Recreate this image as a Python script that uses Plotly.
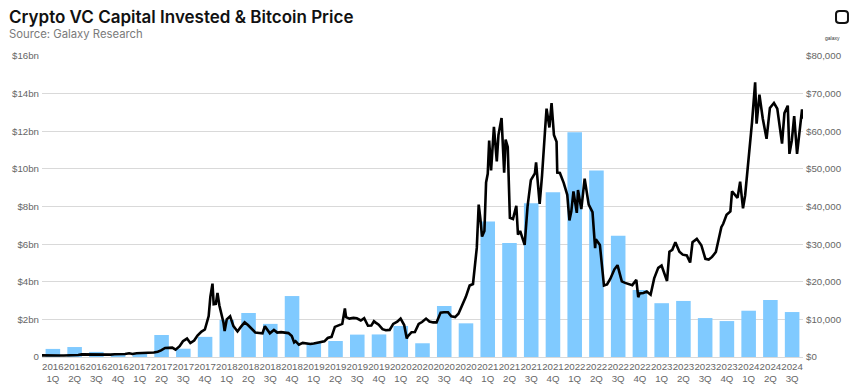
import plotly.graph_objects as go

quarters = [f"{y}<br>{q}Q" for y in range(2016, 2025) for q in range(1, 5)][:35]
vc_bn = [0.43, 0.53, 0.27, 0.12, 0.20, 1.17, 0.44, 1.07,
         1.97, 2.34, 1.76, 3.24,
         0.75, 0.85, 1.19, 1.20,
         1.65, 0.73, 2.71, 1.79,
         7.20, 6.06, 8.17, 8.76,
         11.95, 9.91, 6.45, 3.56,
         2.86, 2.98, 2.07, 1.91,
         2.46, 3.03, 2.39]

btc_dates = [
 "2016-01-01","2016-01-15","2016-02-01","2016-02-15","2016-03-01","2016-03-15","2016-04-01","2016-04-15",
 "2016-05-01","2016-05-15","2016-06-01","2016-06-15","2016-07-01","2016-07-15","2016-08-01","2016-08-15",
 "2016-09-01","2016-09-15","2016-10-01","2016-10-15","2016-11-01","2016-11-15","2016-12-01","2016-12-15",
 "2017-01-01","2017-01-15","2017-02-01","2017-02-15","2017-03-01","2017-03-15","2017-04-01","2017-04-15",
 "2017-05-01","2017-05-15","2017-06-01","2017-06-15","2017-07-01","2017-07-15","2017-08-01","2017-08-15",
 "2017-09-01","2017-09-15","2017-10-01","2017-10-15","2017-11-01","2017-11-15","2017-12-01","2017-12-08",
 "2017-12-17","2017-12-22","2017-12-31",
 "2018-01-07","2018-01-15","2018-02-01","2018-02-06","2018-02-15","2018-03-01","2018-03-15","2018-04-01",
 "2018-04-15","2018-05-01","2018-05-15","2018-06-01","2018-06-15","2018-07-01","2018-07-15","2018-07-25",
 "2018-08-01","2018-08-15","2018-09-01","2018-09-15","2018-10-01","2018-10-15","2018-11-01","2018-11-15",
 "2018-11-25","2018-12-01","2018-12-15","2018-12-31",
 "2019-01-15","2019-02-01","2019-02-15","2019-03-01","2019-03-15","2019-04-01","2019-04-15","2019-05-01",
 "2019-05-15","2019-06-01","2019-06-15","2019-06-26","2019-07-01","2019-07-15","2019-08-01","2019-08-15",
 "2019-09-01","2019-09-15","2019-10-01","2019-10-15","2019-10-26","2019-11-01","2019-11-15","2019-12-01",
 "2019-12-15","2019-12-31",
 "2020-01-15","2020-02-01","2020-02-15","2020-03-01","2020-03-12","2020-03-15","2020-04-01","2020-04-15",
 "2020-05-01","2020-05-15","2020-06-01","2020-06-15","2020-07-01","2020-07-15","2020-08-01","2020-08-15",
 "2020-09-01","2020-09-15","2020-10-01","2020-10-15","2020-11-01","2020-11-15","2020-12-01","2020-12-15",
 "2020-12-31",
 "2021-01-08","2021-01-15","2021-01-22","2021-02-01","2021-02-08","2021-02-15","2021-02-21","2021-03-01",
 "2021-03-13","2021-03-25","2021-04-01","2021-04-14","2021-04-25","2021-05-01","2021-05-10","2021-05-19",
 "2021-06-01","2021-06-15","2021-06-22","2021-07-01","2021-07-20","2021-08-01","2021-08-15","2021-09-01",
 "2021-09-06","2021-09-21","2021-10-01","2021-10-15","2021-10-20","2021-11-01","2021-11-10","2021-11-20",
 "2021-12-01","2021-12-04","2021-12-15","2021-12-31",
 "2022-01-15","2022-01-24","2022-02-01","2022-02-10","2022-02-24","2022-03-01","2022-03-15","2022-03-29",
 "2022-04-15","2022-05-01","2022-05-12","2022-05-15","2022-06-01","2022-06-18","2022-07-01","2022-07-15",
 "2022-08-01","2022-08-14","2022-09-01","2022-09-15","2022-10-01","2022-10-15","2022-11-01","2022-11-09",
 "2022-11-15","2022-12-01","2022-12-15","2022-12-31",
 "2023-01-15","2023-02-01","2023-02-15","2023-03-10","2023-03-20","2023-04-01","2023-04-14","2023-05-01",
 "2023-05-15","2023-06-01","2023-06-15","2023-06-25","2023-07-13","2023-08-01","2023-08-18","2023-09-01",
 "2023-09-15","2023-10-01","2023-10-24","2023-11-01","2023-11-15","2023-12-01","2023-12-08","2023-12-31",
 "2024-01-11","2024-01-23","2024-02-01","2024-02-15","2024-03-01","2024-03-14","2024-03-20","2024-04-01",
 "2024-04-15","2024-05-01","2024-05-15","2024-06-01","2024-06-15","2024-07-05","2024-07-15","2024-07-29",
 "2024-08-05","2024-08-15","2024-08-25","2024-09-06","2024-09-15","2024-09-27","2024-09-30",
]
btc_price = [
 430, 390, 375, 400, 430, 415, 417, 430,
 450, 455, 535, 690, 675, 665, 605, 570,
 575, 610, 615, 640, 730, 710, 755, 780,
 1000, 820, 990, 1010, 1220, 1250, 1080, 1180,
 1420, 1750, 2400, 2450, 2500, 1950, 2870, 4200,
 4900, 3700, 4400, 5700, 6750, 7300, 10900, 16000,
 19500, 14000, 14100,
 17000, 13700, 9200, 6900, 10000, 10800, 8200, 6800,
 8000, 9200, 8500, 7500, 6500, 6400, 6300, 8200,
 7600, 6300, 7200, 6500, 6600, 6450, 6350, 5600,
 3900, 4200, 3250, 3750,
 3600, 3450, 3600, 3800, 3950, 4150, 5050, 5350,
 8000, 8550, 8800, 12900, 10600, 10200, 10400, 10300,
 9700, 10300, 8300, 8350, 9500, 9200, 8600, 7400,
 7100, 7200,
 8800, 9400, 10200, 8500, 4900, 5400, 6600, 6650,
 8800, 9300, 10200, 9450, 9200, 9200, 11800, 11900,
 11900, 10800, 10600, 11500, 13800, 16000, 19000, 19400,
 29000,
 40500, 36800, 32000, 33500, 46400, 48700, 57500, 49600,
 61200, 52000, 59000, 63500, 49000, 57800, 55800, 37000,
 36700, 40200, 32500, 33500, 29800, 39900, 47000, 48800,
 51700, 40700, 48200, 61500, 66000, 61000, 67500, 59000,
 57200, 49000, 48900, 46300,
 43100, 36300, 38700, 44000, 38300, 44400, 39300, 47400,
 40500, 38500, 28900, 31300, 29800, 19000, 19300, 20800,
 23300, 24400, 20100, 19700, 19300, 19100, 20500, 15900,
 16900, 17000, 17400, 16550,
 20900, 23700, 24300, 20200, 28000, 28500, 30500, 28000,
 27200, 27000, 25100, 30500, 31400, 29700, 26100, 25900,
 26600, 27900, 34500, 35400, 37800, 38700, 44000, 42300,
 46600, 39500, 43000, 52000, 62400, 73000, 62000, 69700,
 63400, 58000, 66200, 67500, 66000, 56700, 64800, 66800,
 54000, 57500, 64000, 54000, 59000, 65800, 63300,
]

left_vals = [0, 2, 4, 6, 8, 10, 12, 14, 16]
left_text = ["0", "$2bn", "$4bn", "$6bn", "$8bn", "$10bn", "$12bn", "$14bn", "$16bn"]
right_vals = [0, 10000, 20000, 30000, 40000, 50000, 60000, 70000, 80000]
right_text = ["$0", "$10,000", "$20,000", "$30,000", "$40,000", "$50,000", "$60,000", "$70,000", "$80,000"]

font_fam = "Liberation Sans, Arial, sans-serif"
tick_col = "#666666"
tick_font = dict(family=font_fam, size=9.7, color=tick_col)

fig = go.Figure()
fig.add_trace(go.Bar(x=quarters, y=vc_bn, marker=dict(color="#80CAFF", line=dict(width=0)),
                     xaxis="x", yaxis="y", name="VC Capital Invested"))
fig.add_trace(go.Scatter(x=btc_dates, y=btc_price, mode="lines",
                         line=dict(color="#000000", width=2.6),
                         xaxis="x2", yaxis="y2", name="Bitcoin Price"))

# page has an 8px body offset, so the figure is 853x381 placed at (8, 8)
fig.update_layout(
    width=853, height=381,
    margin=dict(l=34, r=58, t=48, b=32, autoexpand=False),
    plot_bgcolor="white", paper_bgcolor="white",
    showlegend=False, bargap=0.33,
    font=dict(family=font_fam, size=10, color=tick_col),
    xaxis=dict(type="category", tickfont=tick_font, showgrid=False,
               tickangle=0, automargin=False,
               showline=True, linecolor="#d9d9d9", linewidth=1, ticks="", ticklen=0),
    xaxis2=dict(type="date", overlaying="x", visible=False,
                range=["2016-01-01", "2024-10-01"]),
    yaxis=dict(range=[0, 16], tickvals=left_vals, ticktext=left_text, showgrid=True,
               gridcolor="#d9d9d9", gridwidth=1, zeroline=False, ticks="", automargin=False,
               tickfont=tick_font, ticklabelstandoff=2),
    yaxis2=dict(range=[0, 80000], tickvals=right_vals, ticktext=right_text, overlaying="y",
                side="right", anchor="x2", showgrid=False, zeroline=False, ticks="", automargin=False,
                tickfont=tick_font, ticklabelstandoff=2),
)

fig.add_annotation(xref="paper", yref="paper", x=-0.046, y=1.13, xanchor="left", yanchor="middle",
                   text="Crypto VC Capital Invested & Bitcoin Price", showarrow=False,
                   font=dict(family="Inter, sans-serif", size=17, color="#111111", weight=600))
fig.add_annotation(xref="paper", yref="paper", x=-0.046, y=1.072, xanchor="left", yanchor="middle",
                   text="Source: Galaxy Research", showarrow=False,
                   font=dict(family="Inter, sans-serif", size=11.3, color="#7a7a7a"))
# logo
fig.add_shape(type="path", xref="paper", yref="paper",
              path="M 1.0434,1.140 L 1.0434,1.119 Q 1.0434,1.1096 1.0480,1.1096 L 1.0545,1.1096 Q 1.0591,1.1096 1.0591,1.119 L 1.0591,1.140 Q 1.0591,1.1495 1.0545,1.1495 L 1.0480,1.1495 Q 1.0434,1.1495 1.0434,1.140 Z",
              line=dict(color="#111111", width=2))
fig.add_annotation(xref="paper", yref="paper", x=1.0512, y=1.078, text="galaxy", showarrow=False,
                   font=dict(size=5, color="#333333"))

fig.write_html("out.html")
